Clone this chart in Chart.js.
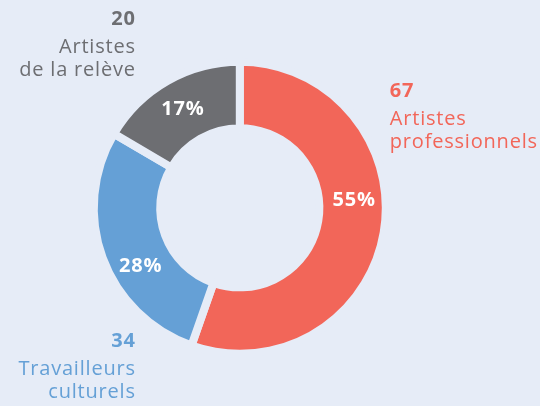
<!DOCTYPE html>
<html>
<head>
<meta charset="utf-8">
<script src="https://cdn.jsdelivr.net/npm/chart.js@4"></script>
<style>
  html, body { margin: 0; padding: 0; background: #e6ecf7; }
  #wrap { width: 540px; height: 406px; position: relative; }
</style>
</head>
<body>
<div id="wrap"><canvas id="donut"></canvas></div>
<script>
const categories = ["Artistes professionnels", "Travailleurs culturels", "Artistes de la relève"];
const labelLines = [["Artistes", "professionnels"], ["Travailleurs", "culturels"], ["Artistes", "de la relève"]];
const counts = [67, 34, 20];
const percents = [55, 28, 17];
const colors = ["#f26659", "#65a0d6", "#6d6e72"];

const BG = "#e6ecf7";
const FONT = "'Open Sans', sans-serif";

// outside labels, placed relative to the doughnut centre
const outsidePlacement = [
  { align: "left",  dx: 150,    dy: -110.5 },
  { align: "right", dx: -104,   dy: 139 },
  { align: "right", dx: -104,   dy: -182.8 }
];
// where along each slice the percentage sits (0 = start, 1 = end)
const pctAlong = [0.43, 0.40, 0.5];

const labelPlugin = {
  id: "donutLabels",
  afterDatasetsDraw(chart) {
    const ctx = chart.ctx;
    const arcs = chart.getDatasetMeta(0).data;
    ctx.save();
    ctx.letterSpacing = "0.8px";
    arcs.forEach((arc, i) => {
      const cx = arc.x, cy = arc.y;

      // percentage inside the ring
      const a = arc.startAngle + (arc.endAngle - arc.startAngle) * pctAlong[i];
      const r = (arc.innerRadius + arc.outerRadius) / 2 + 2;
      ctx.fillStyle = "#ffffff";
      ctx.font = "bold 20px " + FONT;
      ctx.textAlign = "center";
      ctx.textBaseline = "middle";
      ctx.fillText(percents[i] + "%", cx + Math.cos(a) * r, cy + Math.sin(a) * r + 1);

      // count + category outside
      const p = outsidePlacement[i];
      const x = cx + p.dx;
      let y = cy + p.dy;
      ctx.fillStyle = colors[i];
      ctx.textAlign = p.align;
      ctx.textBaseline = "alphabetic";
      ctx.font = "bold 20px " + FONT;
      ctx.fillText(String(counts[i]), x, y);
      ctx.font = "20px " + FONT;
      y += 28;
      labelLines[i].forEach((line, k) => {
        ctx.fillText(line, x, y + k * 23);
      });
    });
    ctx.restore();
  }
};

new Chart(document.getElementById("donut"), {
  type: "doughnut",
  data: {
    labels: categories,
    datasets: [{
      data: counts,
      backgroundColor: colors,
      borderColor: BG,
      borderWidth: 8,
      hoverBorderWidth: 8,
      hoverOffset: 0
    }]
  },
  options: {
    responsive: true,
    maintainAspectRatio: false,
    animation: false,
    cutout: "54.5%",
    layout: { padding: { top: 57.8, bottom: 48.2, left: 0, right: 60.4 } },
    plugins: {
      legend: { display: false },
      tooltip: { enabled: false }
    }
  },
  plugins: [labelPlugin]
});
</script>
</body>
</html>
